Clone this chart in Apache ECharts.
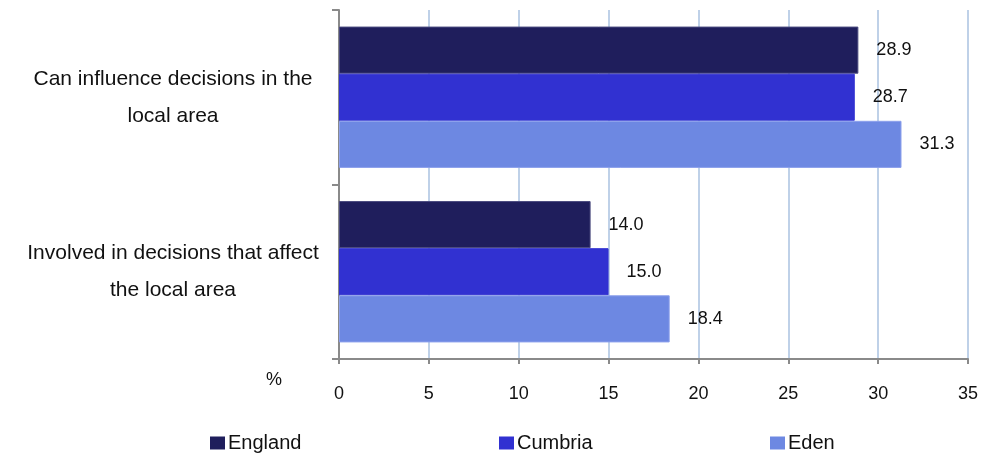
<!DOCTYPE html>
<html>
<head>
<meta charset="utf-8">
<script src="https://cdn.jsdelivr.net/npm/echarts@6/dist/echarts.min.js"></script>
<style>
html,body{margin:0;padding:0;background:#fff;}
#chart{width:993px;height:454px;}
</style>
</head>
<body>
<div id="chart"></div>
<script>
const categories = ["Can influence decisions in the\nlocal area", "Involved in decisions that affect\nthe local area"];
const seriesNames = ["England", "Cumbria", "Eden"];
const england = [28.9, 14.0];
const cumbria = [28.7, 15.0];
const eden = [31.3, 18.4];
const xTicks = [0, 5, 10, 15, 20, 25, 30, 35];
const colors = ["#1F1E5C", "#3131D1", "#6D88E2"];
const borders = ["#4A4A7E", "#3131D1", "#8CA0EC"];

const values = [england, cumbria, eden];
const font = "Liberation Sans, Arial, sans-serif";

const chart = echarts.init(document.getElementById('chart'), null, {renderer: 'canvas'});
const legendLefts = [205, 494, 765];
chart.setOption({
  animation: false,
  textStyle: {fontFamily: font},
  grid: {left: 339, right: 25, top: 10, bottom: 95, containLabel: false},
  xAxis: {
    type: 'value', min: xTicks[0], max: xTicks[xTicks.length - 1], interval: 5,
    axisLine: {show: true, lineStyle: {color: '#8A8A8A', width: 2}},
    axisTick: {show: true, length: 5, lineStyle: {color: '#8A8A8A', width: 2}},
    splitLine: {show: true, lineStyle: {color: '#BFD1E8', width: 2}},
    axisLabel: {color: '#111', fontSize: 18, margin: 26, fontFamily: font}
  },
  yAxis: {
    type: 'category', data: categories, inverse: true,
    axisLine: {show: true, lineStyle: {color: '#8A8A8A', width: 2}},
    axisTick: {show: true, length: 7, lineStyle: {color: '#8A8A8A', width: 2}},
    axisLabel: {color: '#111', fontSize: 21, lineHeight: 37, align: 'center', margin: 166, fontFamily: font}
  },
  legend: seriesNames.map((n, i) => ({
    data: [n], left: legendLefts[i], top: 428, itemWidth: 15, itemHeight: 13, itemGap: 4,
    icon: 'rect', itemStyle: {borderWidth: 0},
    textStyle: {fontSize: 20, color: '#111', fontFamily: font, padding: [0,0,0,-2]}
  })),
  graphic: [{type: 'text', left: 266, top: 371, style: {text: '%', fontSize: 18, fill: '#111', fontFamily: font}}],
  series: seriesNames.map((n, i) => ({
    name: n, type: 'bar', data: values[i], barGap: '0%', barCategoryGap: '19%',
    itemStyle: {color: colors[i], borderColor: borders[i], borderWidth: 1},
    label: {show: true, position: 'right', distance: 18, fontSize: 18, color: '#111', fontFamily: font,
      formatter: p => p.value.toFixed(1)}
  }))
});
</script>
</body>
</html>
